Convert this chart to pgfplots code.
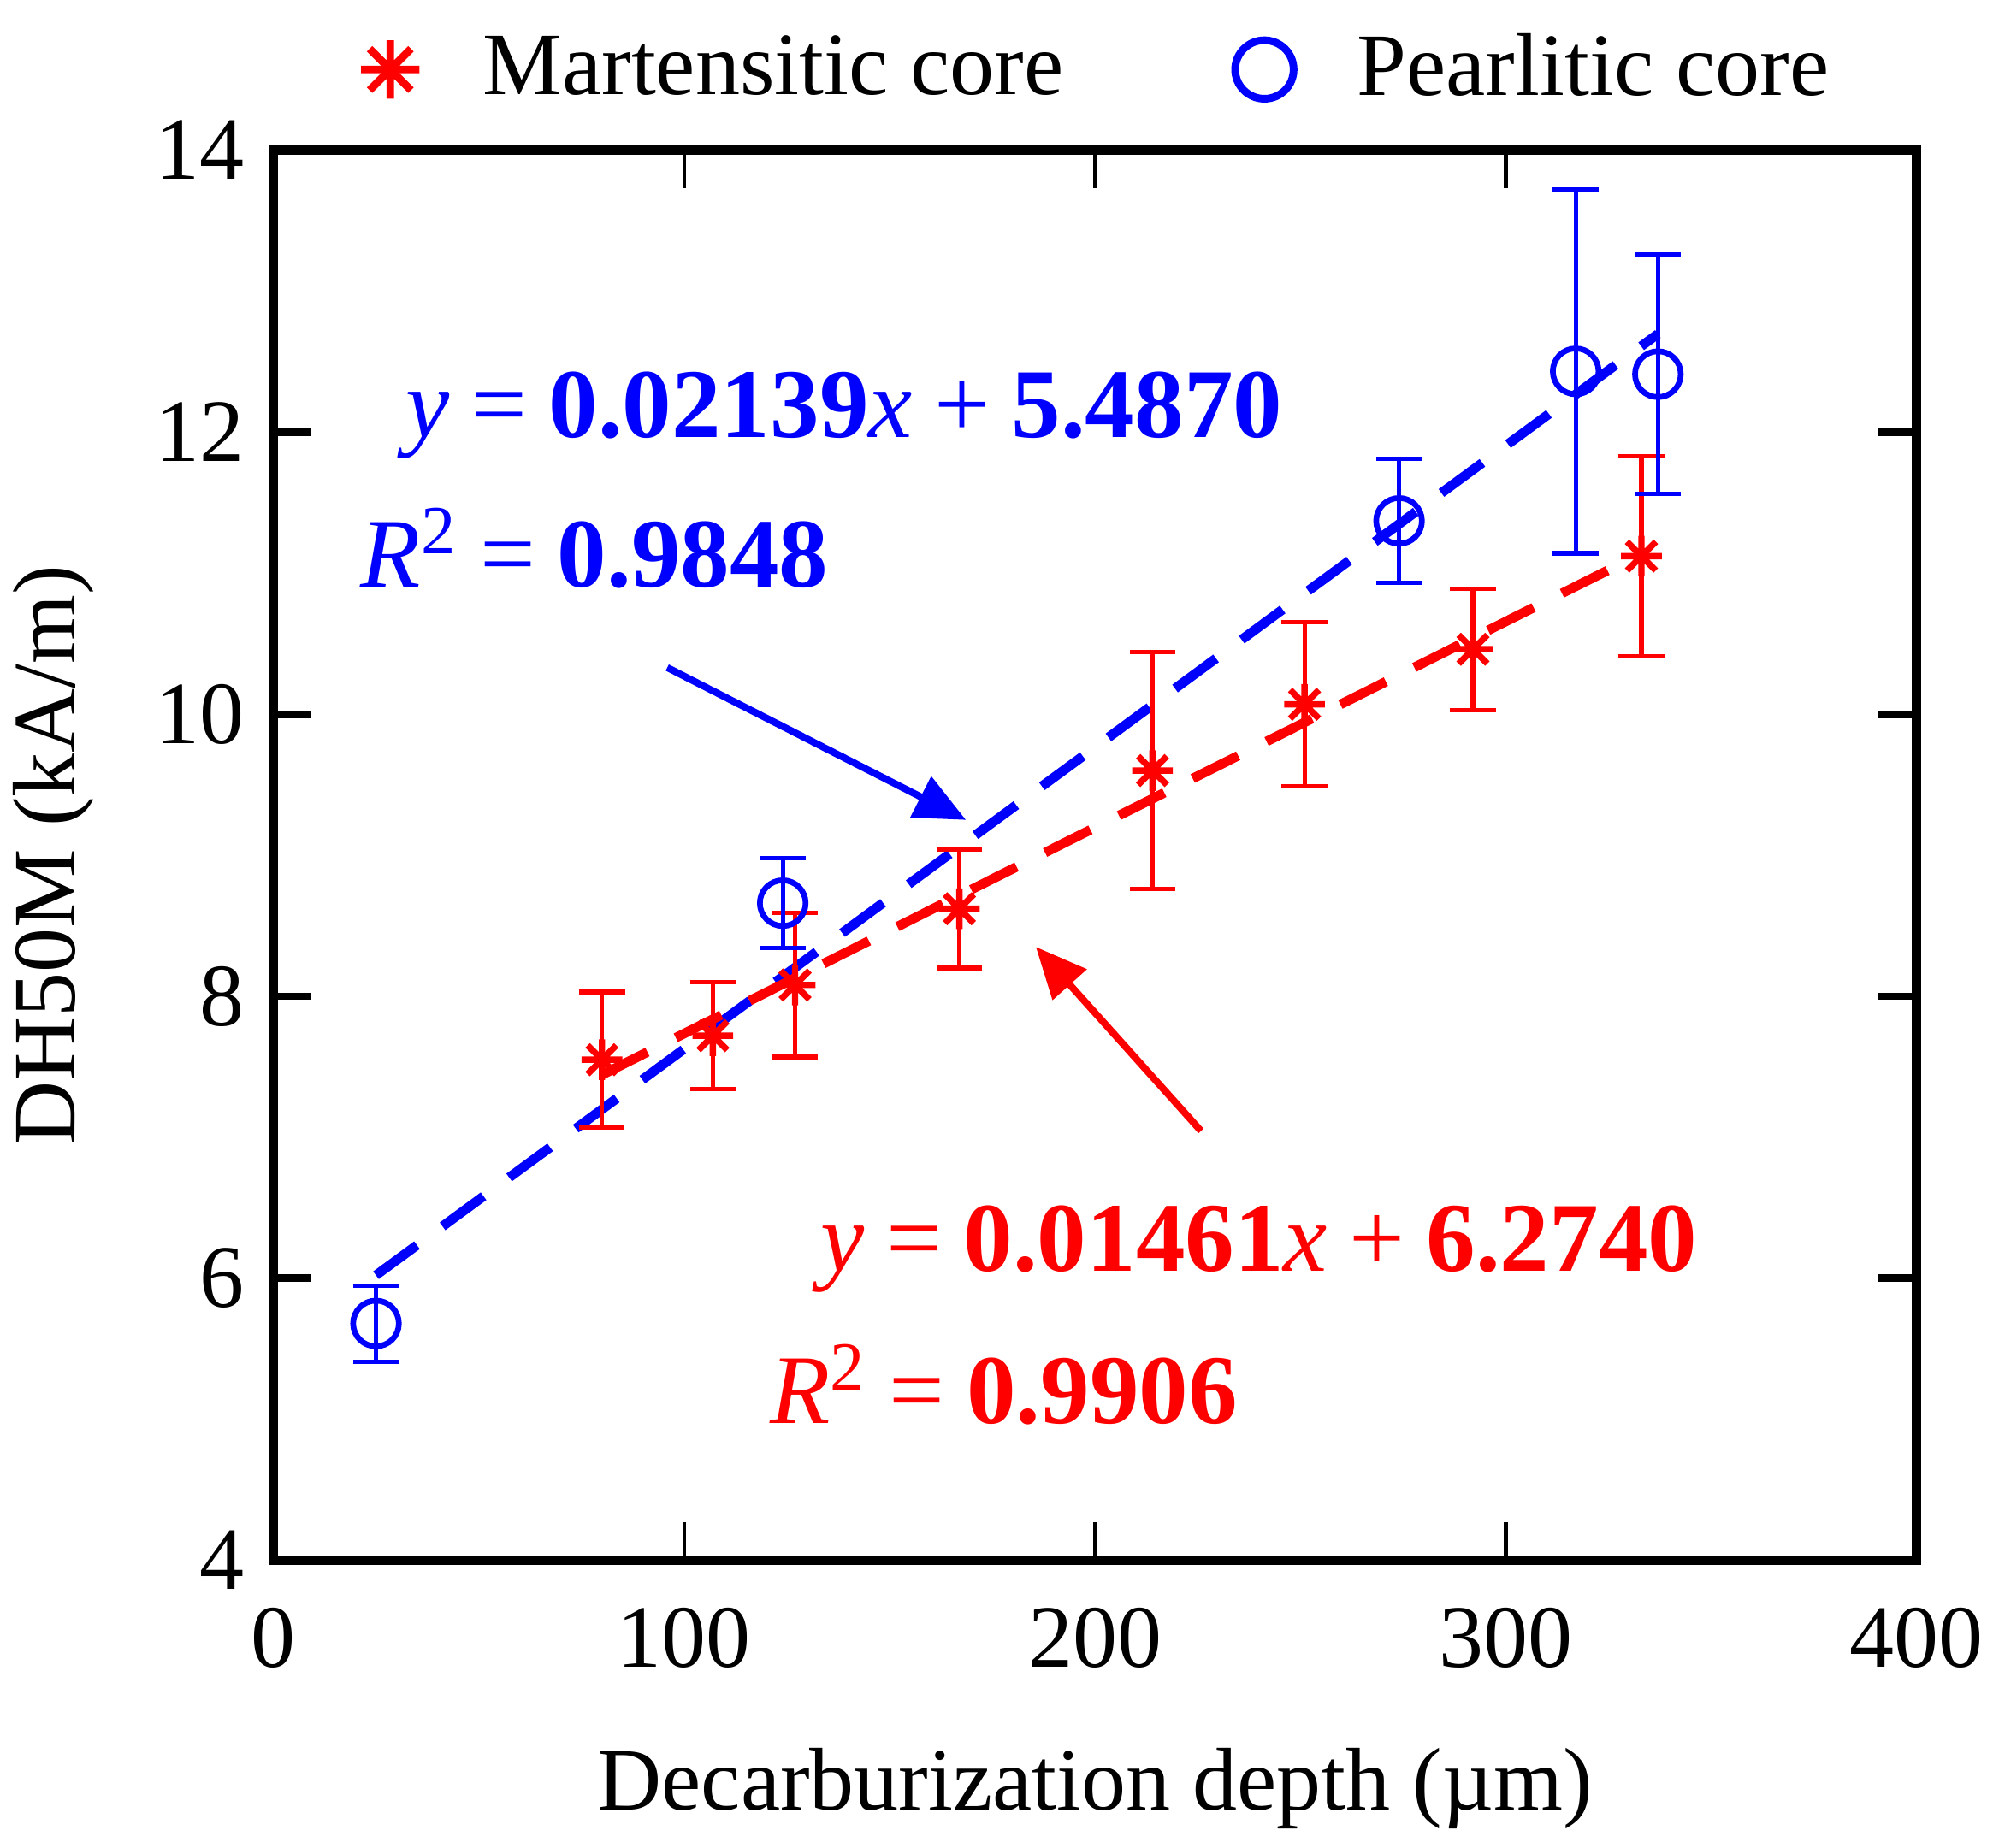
\documentclass[border=0pt]{standalone}
\usepackage{fontspec}
\setmainfont{Liberation Serif}
\usepackage{pgfplots}
\usepackage{pgfplotstable}
\pgfplotsset{compat=1.18}
\usetikzlibrary{arrows.meta,calc}

% eight-spoke asterisk like the original marker
\pgfdeclareplotmark{ast8}{%
  \pgfpathmoveto{\pgfqpoint{0pt}{\pgfplotmarksize}}%
  \pgfpathlineto{\pgfqpoint{0pt}{-\pgfplotmarksize}}%
  \pgfpathmoveto{\pgfqpoint{\pgfplotmarksize}{0pt}}%
  \pgfpathlineto{\pgfqpoint{-\pgfplotmarksize}{0pt}}%
  \pgfpathmoveto{\pgfqpoint{.7071\pgfplotmarksize}{.7071\pgfplotmarksize}}%
  \pgfpathlineto{\pgfqpoint{-.7071\pgfplotmarksize}{-.7071\pgfplotmarksize}}%
  \pgfpathmoveto{\pgfqpoint{-.7071\pgfplotmarksize}{.7071\pgfplotmarksize}}%
  \pgfpathlineto{\pgfqpoint{.7071\pgfplotmarksize}{-.7071\pgfplotmarksize}}%
  \pgfusepathqstroke}

\pgfplotstableread{
x   y     e
80  7.55  0.48
107 7.72  0.38
127 8.08  0.51
167 8.62  0.42
214 9.60  0.84
251 10.07 0.58
292 10.46 0.43
333 11.12 0.71
}\martensitic

\pgfplotstableread{
x   y     e
25  5.68  0.27
124 8.66  0.32
274 11.37 0.44
317 12.43 1.29
337 12.41 0.85
}\pearlitic

\newcommand{\eqsp}{\hspace{0.22em}}

\begin{document}
\begin{tikzpicture}
\begin{axis}[
  name=ax,
  width=258.6pt, height=222pt,
  scale only axis,
  xmin=0, xmax=400, ymin=4, ymax=14,
  xtick={0,100,...,400},
  ytick={4,6,...,14},
  tick align=inside,
  major tick length=6pt,
  xtick style={line width=0.6pt, black},
  ytick style={line width=1.2pt, black},
  axis line style={line width=1.5pt},
  font=\fontsize{14}{16}\selectfont,
  /pgf/number format/assume math mode=true,
  xticklabel style={yshift=-4pt},
  yticklabel style={xshift=-1pt},
  xlabel={Decarburization depth (µm)},
  ylabel={DH50M (kA/m)},
  xlabel style={at={(axis description cs:0.5,-0.162)}, anchor=center},
  ylabel style={at={(axis description cs:-0.134,0.5)}, anchor=center},
  legend columns=2,
  legend style={draw=none, fill=none, at={(axis description cs:0.5,1.057)}, anchor=center,
    xshift=1pt,
    /tikz/every odd column/.append style={column sep=8pt},
    /tikz/every even column/.append style={column sep=25pt},
    font=\fontsize{14}{16}\selectfont},
  legend image post style={mark size=4.6pt, line width=1.2pt},
  legend cell align=left,
]
\addplot[forget plot, blue, line width=1.5pt, dash pattern=on 8pt off 5pt]
  coordinates {(25,6.022) (337,12.695)};
\addplot[forget plot, red, line width=1.5pt, dash pattern=on 8pt off 5pt]
  coordinates {(80,7.443) (333,11.139)};

\addplot[only marks, red, mark=ast8, mark size=3.2pt, line width=1pt,
  error bars/.cd, y dir=both, y explicit,
  error bar style={line width=0.7pt, red},
  error mark options={rotate=90, mark size=3.6pt, line width=0.7pt, red}]
  table[x=x, y=y, y error=e] {\martensitic};
\addlegendentry{Martensitic core}

\addplot[only marks, blue, mark=o, mark size=3.6pt, line width=0.9pt,
  error bars/.cd, y dir=both, y explicit,
  error bar style={line width=0.7pt, blue},
  error mark options={rotate=90, mark size=3.6pt, line width=0.7pt, blue}]
  table[x=x, y=y, y error=e] {\pearlitic};
\addlegendentry{Pearlitic core}

\node[blue, anchor=base west, font=\fontsize{15.5}{17}\selectfont, inner sep=0pt]
  at (axis cs:32,11.96) {\textit{y}\eqsp=\eqsp\textbf{0.02139}\textit{x}\eqsp+\eqsp\textbf{5.4870}};
\node[blue, anchor=base west, font=\fontsize{15.5}{17}\selectfont, inner sep=0pt]
  at (axis cs:21,10.90) {\textit{R}\textsuperscript{2}\eqsp=\eqsp\textbf{0.9848}};
\node[red, anchor=base west, font=\fontsize{15.5}{17}\selectfont, inner sep=0pt]
  at (axis cs:133,6.05) {\textit{y}\eqsp=\eqsp\textbf{0.01461}\textit{x}\eqsp+\eqsp\textbf{6.2740}};
\node[red, anchor=base west, font=\fontsize{15.5}{17}\selectfont, inner sep=0pt]
  at (axis cs:120.6,4.97) {\textit{R}\textsuperscript{2}\eqsp=\eqsp\textbf{0.9906}};

\draw[blue, line width=1.1pt, -{Triangle[length=8pt,width=7pt]}]
  (axis cs:95.9,10.33) -- (axis cs:168.6,9.25);
\draw[red, line width=1.1pt, -{Triangle[length=8pt,width=7pt]}]
  (axis cs:225.8,7.045) -- (axis cs:185.6,8.35);
\end{axis}
\pgfresetboundingbox
\path[use as bounding box] ($(ax.south west)+(-43pt,-45.2pt)$) rectangle ($(ax.north east)+(12pt,23.6pt)$);
\end{tikzpicture}
\end{document}
